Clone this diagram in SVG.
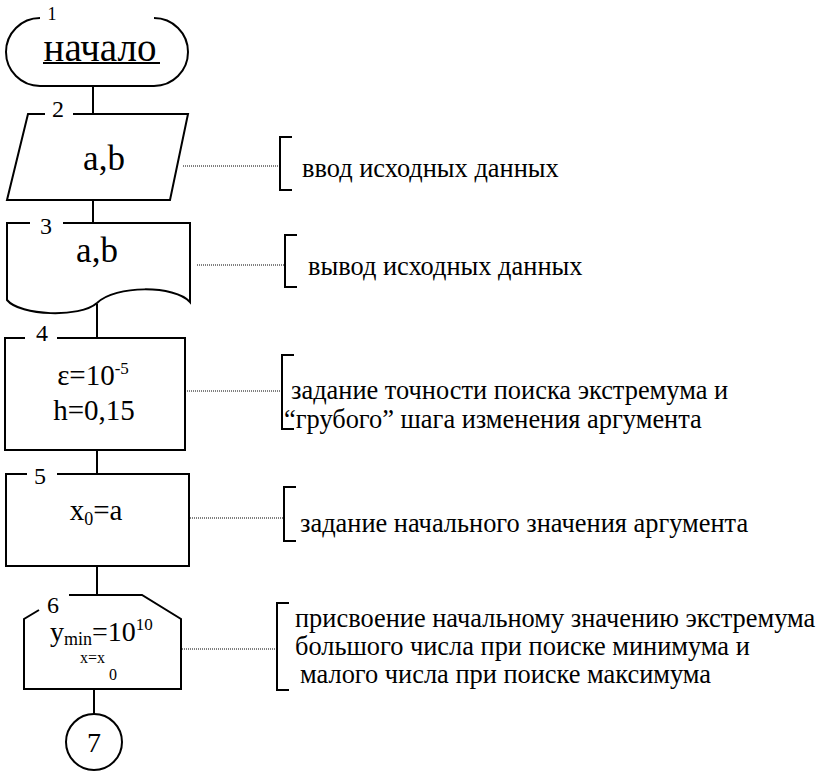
<svg xmlns="http://www.w3.org/2000/svg" width="822" height="772" viewBox="0 0 822 772">
  <style>
    text { font-family: "Liberation Serif", "Times New Roman", serif; fill: #000; }
    .shape { fill: none; stroke: #000; stroke-width: 2; stroke-linejoin: miter; }
    .conn { stroke: #000; stroke-width: 2; fill: none; }
    .dot { stroke: #000; stroke-width: 1; stroke-dasharray: 1 1; fill: none; }
    .br { fill: none; stroke: #000; stroke-width: 2; }
    .num { font-size: 24px; text-anchor: middle; }
    .lbl { font-size: 29px; text-anchor: middle; }
    .big { font-size: 35px; text-anchor: middle; }
    .note { font-size: 26.4px; }
  </style>
  <rect width="822" height="772" fill="#fff"/>

  <!-- flow lines between blocks -->
  <g id="connectors">
    <line class="conn" x1="93" y1="86" x2="93" y2="114"/>
    <line class="conn" x1="93" y1="200" x2="93" y2="223"/>
    <line class="conn" x1="97" y1="304" x2="97" y2="338"/>
    <line class="conn" x1="97" y1="450" x2="97" y2="474"/>
    <line class="conn" x1="97" y1="566" x2="97" y2="595"/>
    <line class="conn" x1="94" y1="689" x2="94" y2="714"/>
  </g>

  <!-- 1: start terminator -->
  <g id="node1">
    <path class="shape" d="M40 18 A34 34 0 0 0 40 86 L154 86 A34 34 0 0 0 154 18"/>
    <text x="52" y="20" font-size="18" text-anchor="middle">1</text>
    <text x="100" y="61" font-size="39" text-anchor="middle">начало</text>
    <line x1="43" y1="63" x2="160" y2="63" stroke="#000" stroke-width="2"/>
  </g>

  <!-- 2: data input -->
  <g id="node2">
    <path class="shape" d="M45 114 L28 114 L7 200 L170 200 L188 114 L73 114"/>
    <text class="num" x="58" y="117">2</text>
    <text class="big" x="104" y="170">a,b</text>
  </g>

  <!-- 3: document output -->
  <g id="node3">
    <path class="shape" d="M30 223 L7 223 L7 300 C20 316 80 318 97 303 C115 285 175 285 190 302 L190 223 L63 223"/>
    <text class="num" x="46" y="234">3</text>
    <text class="big" x="97" y="262">a,b</text>
  </g>

  <!-- 4: process -->
  <g id="node4">
    <path class="shape" d="M25 338 L5 338 L5 450 L185 450 L185 338 L57 338"/>
    <text class="num" x="42" y="341">4</text>
    <text class="lbl" x="93" y="385">ε=10<tspan font-size="17" dy="-11">-5</tspan></text>
    <text class="lbl" x="94" y="420">h=0,15</text>
  </g>

  <!-- 5: process -->
  <g id="node5">
    <path class="shape" d="M27 474 L6 474 L6 566 L189 566 L189 474 L57 474"/>
    <text class="num" x="40" y="484">5</text>
    <text class="lbl" x="96" y="520">x<tspan font-size="18" dy="5">0</tspan><tspan dy="-5">=a</tspan></text>
  </g>

  <!-- 6: loop limit -->
  <g id="node6">
    <path class="shape" d="M39 610 L24 619 L24 689 L181 689 L181 619 L142 595 L69 595"/>
    <text class="num" x="53" y="613">6</text>
    <text x="50" y="641" font-size="28">y<tspan font-size="18" dy="4">min</tspan><tspan dy="-4">=10</tspan><tspan font-size="17" dy="-11">10</tspan></text>
    <text x="80" y="663" font-size="16">x=x</text>
    <text x="109" y="680" font-size="16">0</text>
  </g>

  <!-- 7: connector -->
  <g id="node7">
    <circle class="shape" cx="94" cy="742" r="28"/>
    <text x="94" y="752" font-size="28" text-anchor="middle">7</text>
  </g>

  <!-- comments -->
  <g id="note2">
    <line class="dot" x1="183" y1="166" x2="280" y2="166"/>
    <path class="br" d="M292 137 L280 137 L280 190 L292 190"/>
    <text class="note" x="302" y="177">ввод исходных данных</text>
  </g>
  <g id="note3">
    <line class="dot" x1="197" y1="265" x2="285" y2="265"/>
    <path class="br" d="M297 235 L285 235 L285 287 L297 287"/>
    <text class="note" x="308" y="275">вывод исходных данных</text>
  </g>
  <g id="note4">
    <line class="dot" x1="187" y1="391" x2="282" y2="391"/>
    <path class="br" d="M294 355 L282 355 L282 429 L294 429"/>
    <text class="note" x="291" y="399">задание точности поиска экстремума и</text>
    <text class="note" x="284" y="428">“грубого” шага изменения аргумента</text>
  </g>
  <g id="note5">
    <line class="dot" x1="190" y1="518" x2="284" y2="518"/>
    <path class="br" d="M296 487 L284 487 L284 541 L296 541"/>
    <text class="note" x="300" y="532">задание начального значения аргумента</text>
  </g>
  <g id="note6">
    <line class="dot" x1="182" y1="649" x2="277" y2="649"/>
    <path class="br" d="M289 603 L277 603 L277 690 L289 690"/>
    <text class="note" x="295" y="627">присвоение начальному значению экстремума</text>
    <text class="note" x="295" y="655">большого числа при поиске минимума и</text>
    <text class="note" x="300" y="683">малого числа при поиске максимума</text>
  </g>
</svg>
